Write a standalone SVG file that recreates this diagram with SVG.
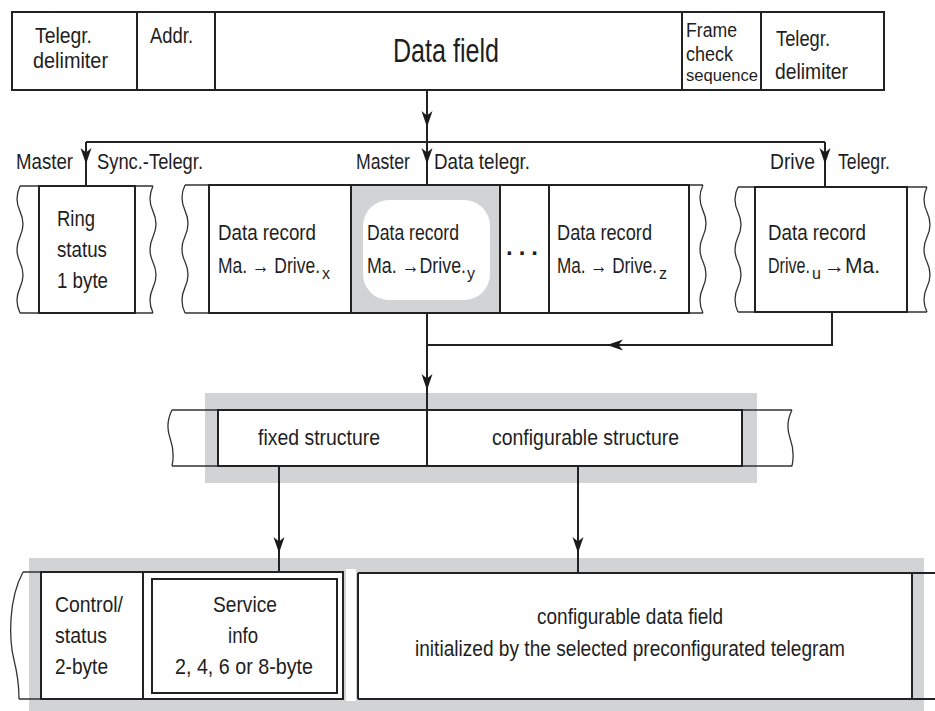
<svg xmlns="http://www.w3.org/2000/svg" xmlns:xlink="http://www.w3.org/1999/xlink" width="935" height="711" viewBox="0 0 935 711">
  <style>
    .box{fill:#fff;stroke:#222;stroke-width:2}
    .ln{fill:none;stroke:#222;stroke-width:2}
    .wv{fill:none;stroke:#333;stroke-width:1.3}
    .gray{fill:#d2d3d5}
    .ah{fill:#1a1a1a}
    text{font-family:"Liberation Sans",Arial,sans-serif;font-size:22px;fill:#1e1e1e}
    .big{font-size:33px}
    .sm{font-size:20px}
    .xs{font-size:17px}
    .sub{font-size:16px}
  </style>
  <defs>
    <!-- barbed arrowhead, tip at origin, pointing down -->
    <path id="ahd" class="ah" d="M0 0 L-5.5 -16 L0 -11.5 L5.5 -16 Z"/>
  </defs>

  <rect width="935" height="711" fill="#fff"/>

  <!-- telegram frame -->
  <g id="frame">
    <rect class="box" x="12" y="12" width="872" height="78"/>
    <path class="ln" d="M137 12V90M215 12V90M682 12V90M761 12V90"/>
    <text x="35" y="43" textLength="57" lengthAdjust="spacingAndGlyphs">Telegr.</text>
    <text x="33" y="68" textLength="75" lengthAdjust="spacingAndGlyphs">delimiter</text>
    <text x="150" y="43" textLength="43" lengthAdjust="spacingAndGlyphs">Addr.</text>
    <text class="big" x="393" y="62" textLength="106" lengthAdjust="spacingAndGlyphs">Data field</text>
    <text class="sm" x="686" y="37" textLength="51" lengthAdjust="spacingAndGlyphs">Frame</text>
    <text class="sm" x="686" y="61" textLength="47" lengthAdjust="spacingAndGlyphs">check</text>
    <text class="xs" x="686" y="81" textLength="72" lengthAdjust="spacingAndGlyphs">sequence</text>
    <text x="776" y="46" textLength="54" lengthAdjust="spacingAndGlyphs">Telegr.</text>
    <text x="775" y="79" textLength="73" lengthAdjust="spacingAndGlyphs">delimiter</text>
  </g>

  <!-- master sync telegram -->
  <g id="sync-telegram">
    <path class="wv" d="M20 186q-6 12.7 0 25.4t0 25.4t0 25.4t0 25.4t0 25.4M153 186q-6 12.7 0 25.4t0 25.4t0 25.4t0 25.4t0 25.4M20 186H39M20 313H39M135 186H153M135 313H153"/>
    <rect class="box" x="39" y="186" width="96" height="127"/>
    <text x="57" y="226" textLength="38" lengthAdjust="spacingAndGlyphs">Ring</text>
    <text x="57" y="257" textLength="50" lengthAdjust="spacingAndGlyphs">status</text>
    <text x="57" y="288" textLength="51" lengthAdjust="spacingAndGlyphs">1 byte</text>
  </g>

  <!-- master data telegram -->
  <g id="data-telegram">
    <path class="wv" d="M185 185q-6 12.8 0 25.6t0 25.6t0 25.6t0 25.6t0 25.6M703 185q-6 12.8 0 25.6t0 25.6t0 25.6t0 25.6t0 25.6M185 185H209M185 313H209M689 185H703M689 313H703"/>
    <rect class="box" x="209" y="185" width="480" height="128"/>
    <rect class="gray" x="351" y="186" width="149" height="126"/>
    <rect x="363" y="200" width="127" height="100" rx="26" fill="#fff"/>
    <path class="ln" d="M351 185V313M500 185V313M549 185V313"/>
    <text x="218" y="240" textLength="98" lengthAdjust="spacingAndGlyphs">Data record</text>
    <text x="218" y="273" textLength="102" lengthAdjust="spacingAndGlyphs">Ma. → Drive.</text>
    <text class="sub" x="322" y="279">x</text>
    <text x="367" y="240" textLength="92" lengthAdjust="spacingAndGlyphs">Data record</text>
    <text x="367" y="273" textLength="99" lengthAdjust="spacingAndGlyphs">Ma. →Drive.</text>
    <text class="sub" x="467" y="279">y</text>
    <text x="506" y="255" font-weight="bold" style="font-size:24px" letter-spacing="6">...</text>
    <text x="557" y="240" textLength="95" lengthAdjust="spacingAndGlyphs">Data record</text>
    <text x="557" y="273" textLength="100" lengthAdjust="spacingAndGlyphs">Ma. → Drive.</text>
    <text class="sub" x="659" y="279">z</text>
  </g>

  <!-- drive telegram -->
  <g id="drive-telegram">
    <path class="wv" d="M738 187q-6 12.5 0 25t0 25t0 25t0 25t0 25M927 187q-6 12.5 0 25t0 25t0 25t0 25t0 25M738 187H755M738 312H755M907 187H927M907 312H927"/>
    <rect class="box" x="755" y="187" width="152" height="125"/>
    <text x="768" y="240" textLength="98" lengthAdjust="spacingAndGlyphs">Data record</text>
    <text x="768" y="273" textLength="42" lengthAdjust="spacingAndGlyphs">Drive.</text>
    <text class="sub" x="812" y="279">u</text>
    <text x="824" y="273" textLength="56" lengthAdjust="spacingAndGlyphs">→Ma.</text>
  </g>

  <!-- data record structure -->
  <g id="record-structure">
    <rect class="gray" x="205" y="393" width="552" height="90"/>
    <path class="wv" d="M172 410q-7 14 -2 28t2 28M792 410q-7 14 -2 28t2 28M172 410H218M172 466H218M742 410H792M742 466H792"/>
    <rect class="box" x="218" y="410" width="524" height="56"/>
    <path class="ln" d="M427 410V466"/>
    <text x="258" y="445" textLength="122" lengthAdjust="spacingAndGlyphs">fixed structure</text>
    <text x="492" y="445" textLength="187" lengthAdjust="spacingAndGlyphs">configurable structure</text>
  </g>

  <!-- record contents -->
  <g id="record-contents">
    <rect class="gray" x="29" y="558" width="895" height="153"/>
    <rect x="346" y="569" width="10" height="132" fill="#fff"/>
    <path class="wv" d="M23 572C8 600 9 640 14 660S19 690 19 699M23 572H41M19 699H41"/>
    <rect class="box" x="41" y="572" width="302" height="127"/>
    <path class="ln" d="M143 572V699"/>
    <rect class="box" x="152" y="579" width="185" height="114"/>
    <text x="55" y="612" textLength="68" lengthAdjust="spacingAndGlyphs">Control/</text>
    <text x="55" y="643" textLength="52" lengthAdjust="spacingAndGlyphs">status</text>
    <text x="55" y="674" textLength="53" lengthAdjust="spacingAndGlyphs">2-byte</text>
    <text x="213" y="612" textLength="64" lengthAdjust="spacingAndGlyphs">Service</text>
    <text x="228" y="643" textLength="30" lengthAdjust="spacingAndGlyphs">info</text>
    <text x="175" y="674" textLength="138" lengthAdjust="spacingAndGlyphs">2, 4, 6 or 8-byte</text>
  </g>

  <g id="configurable-data-field">
    <rect x="358" y="573" width="554" height="126" fill="#fff"/>
    <path class="ln" d="M358 573H935M358 699H935M358 573V699M912 573V699"/>
    <text x="537" y="624" textLength="186" lengthAdjust="spacingAndGlyphs">configurable data field</text>
    <text x="415" y="656" textLength="430" lengthAdjust="spacingAndGlyphs">initialized by the selected preconfigurated telegram</text>
  </g>

  <!-- connectors -->
  <g id="connectors">
    <path class="ln" d="M427 90V185M86 142H825M86 142V186M825 142V187"/>
    <path class="ln" d="M427 313V410M832 312V345H427"/>
    <path class="ln" d="M279 466V572M578 466V573"/>
    <use xlink:href="#ahd" x="427" y="127"/>
    <use xlink:href="#ahd" x="86" y="164"/>
    <use xlink:href="#ahd" x="427" y="164"/>
    <use xlink:href="#ahd" x="825" y="164"/>
    <use xlink:href="#ahd" x="427" y="390"/>
    <use xlink:href="#ahd" x="279" y="553"/>
    <use xlink:href="#ahd" x="578" y="553"/>
    <use xlink:href="#ahd" transform="translate(607 345) rotate(90)"/>
  </g>

  <!-- connector labels -->
  <g id="labels">
    <text x="16" y="169" textLength="57" lengthAdjust="spacingAndGlyphs">Master</text>
    <text x="97" y="169" textLength="106" lengthAdjust="spacingAndGlyphs">Sync.-Telegr.</text>
    <text x="356" y="169" textLength="54" lengthAdjust="spacingAndGlyphs">Master</text>
    <text x="434" y="169" textLength="96" lengthAdjust="spacingAndGlyphs">Data telegr.</text>
    <text x="770" y="169" textLength="45" lengthAdjust="spacingAndGlyphs">Drive</text>
    <text x="838" y="169" textLength="52" lengthAdjust="spacingAndGlyphs">Telegr.</text>
  </g>
</svg>
